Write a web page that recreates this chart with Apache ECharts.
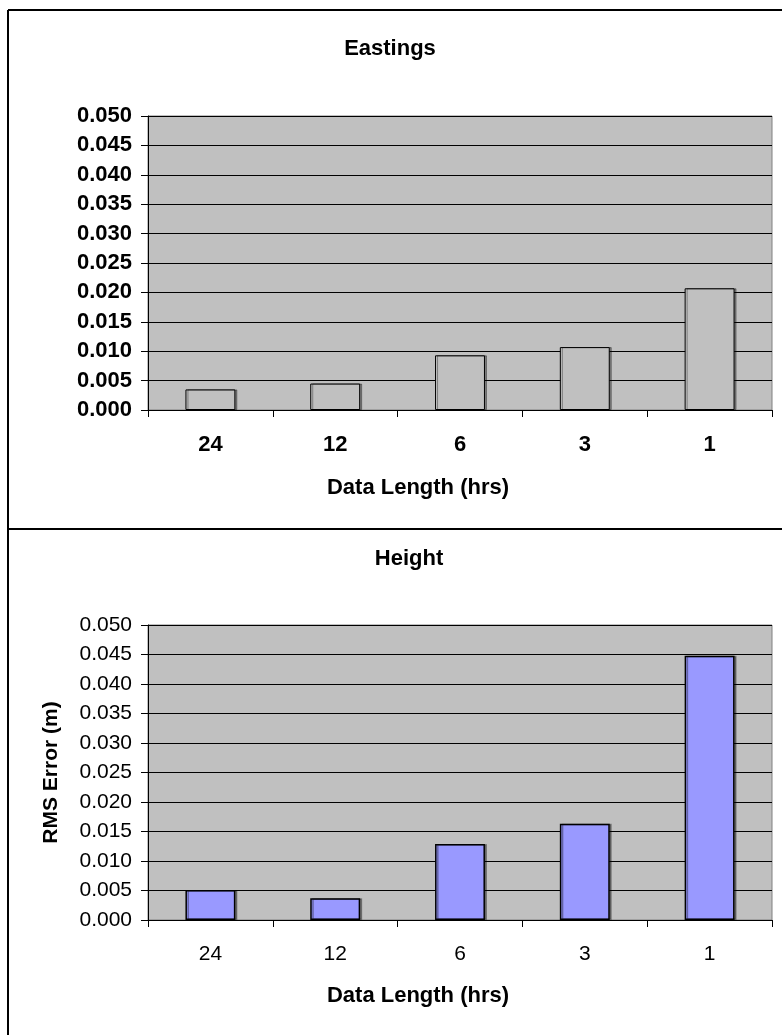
<!DOCTYPE html>
<html>
<head>
<meta charset="utf-8">
<script src="https://cdn.jsdelivr.net/npm/echarts@6/dist/echarts.min.js"></script>
<style>
html,body{margin:0;padding:0;background:#fff;}
#c{width:782px;height:1035px;}
</style>
</head>
<body>
<div id="c"></div>
<script>
var categories = ['24', '12', '6', '3', '1'];
var eastingsValues = [0.0035, 0.0045, 0.0093, 0.0107, 0.0207];
var heightValues = [0.0051, 0.0037, 0.0129, 0.0163, 0.0448];
var yTicks = {min: 0, max: 0.05, interval: 0.005};
var titleTop = 'Eastings';
var titleBottom = 'Height';
var xAxisTitle = 'Data Length (hrs)';
var yAxisTitle = 'RMS Error (m)';

var FONT = '"Liberation Sans", Arial, sans-serif';
var chart = echarts.init(document.getElementById('c'), null, {renderer: 'canvas'});

function yAxisCfg(gridIndex, bold, name) {
  return {
    gridIndex: gridIndex, type: 'value', min: yTicks.min, max: yTicks.max, interval: yTicks.interval,
    name: name || '', nameLocation: 'middle', nameGap: 86, nameRotate: 90,
    nameTextStyle: {fontFamily: FONT, fontWeight: 'bold', fontSize: 21, color: '#000'},
    axisLine: {show: true, lineStyle: {color: '#000', width: 1}},
    axisTick: {show: true, length: 7, lineStyle: {color: '#000'}},
    splitLine: {show: true, lineStyle: {color: '#000', width: 1}},
    axisLabel: bold ?
      {fontFamily: FONT, fontSize: 22, fontWeight: 'bold', color: '#000', margin: 16,
        formatter: function (v) { return v.toFixed(3); }} :
      {fontFamily: FONT, fontSize: 21, fontWeight: 'normal', color: '#000', margin: 16,
        formatter: function (v) { return v.toFixed(3); }}
  };
}
function xAxisCfg(gridIndex, bold) {
  return {
    gridIndex: gridIndex, type: 'category', data: categories,
    axisLine: {show: true, lineStyle: {color: '#000', width: 1}},
    axisTick: {show: true, length: 7, alignWithLabel: false, lineStyle: {color: '#000'}},
    axisLabel: bold ?
      {fontFamily: FONT, fontSize: 22, fontWeight: 'bold', color: '#000', margin: 24} :
      {fontFamily: FONT, fontSize: 21, fontWeight: 'normal', color: '#000', margin: 24}
  };
}
function barSeries(idx, data, color, bw) {
  return {
    type: 'bar', xAxisIndex: idx, yAxisIndex: idx, data: data, barWidth: '40%',
    itemStyle: {color: color, borderColor: '#000', borderWidth: bw,
      shadowColor: 'rgba(0,0,0,0.35)', shadowOffsetX: 2, shadowOffsetY: 0, shadowBlur: 0},
    emphasis: {disabled: true}, animation: false
  };
}
var titleStyle = {fontFamily: FONT, fontSize: 22, fontWeight: 'bold', color: '#000'};

chart.setOption({
  animation: false,
  backgroundColor: '#fff',
  title: [
    {text: titleTop, left: 385, top: 33, textAlign: 'center', textStyle: titleStyle},
    {text: xAxisTitle, left: 413, top: 472, textAlign: 'center', textStyle: titleStyle},
    {text: titleBottom, left: 404, top: 543, textAlign: 'center', textStyle: titleStyle},
    {text: xAxisTitle, left: 413, top: 980, textAlign: 'center', textStyle: titleStyle}
  ],
  grid: [
    {left: 148, top: 116, width: 624, height: 294, show: true, backgroundColor: '#C0C0C0', borderColor: '#808080', borderWidth: 1, containLabel: false},
    {left: 148, top: 625, width: 624, height: 295, show: true, backgroundColor: '#C0C0C0', borderColor: '#808080', borderWidth: 1, containLabel: false}
  ],
  xAxis: [xAxisCfg(0, true), xAxisCfg(1, false)],
  yAxis: [yAxisCfg(0, true, ''), yAxisCfg(1, false, yAxisTitle)],
  series: [
    barSeries(0, eastingsValues, '#C0C0C0', 1),
    barSeries(1, heightValues, '#9999FF', 1.5)
  ],
  graphic: [
    {type: 'line', shape: {x1: 8, y1: 10, x2: 782, y2: 10}, style: {stroke: '#000', lineWidth: 2}, silent: true},
    {type: 'line', shape: {x1: 8, y1: 10, x2: 8, y2: 1035}, style: {stroke: '#000', lineWidth: 2}, silent: true},
    {type: 'line', shape: {x1: 8, y1: 529, x2: 782, y2: 529}, style: {stroke: '#000', lineWidth: 2}, silent: true}
  ]
});
</script>
</body>
</html>
